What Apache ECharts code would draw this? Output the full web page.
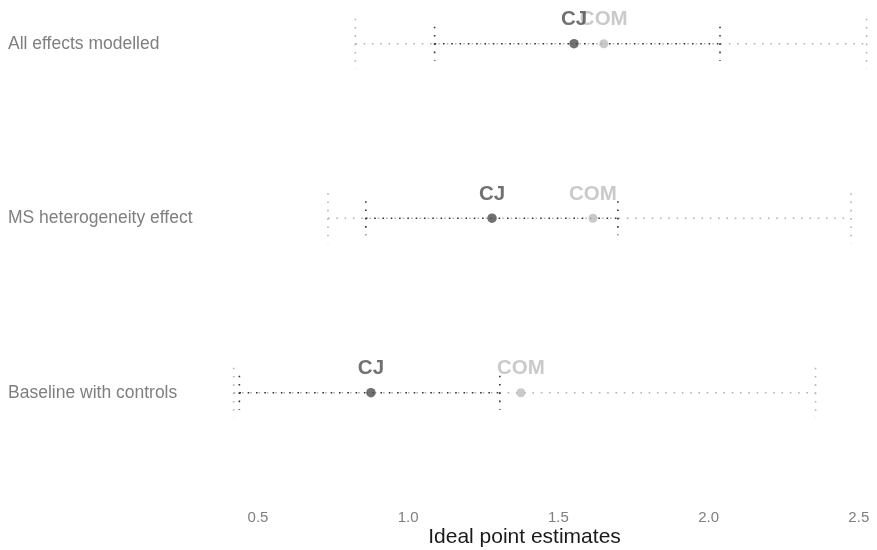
<!DOCTYPE html>
<html>
<head>
<meta charset="utf-8">
<script src="https://cdn.jsdelivr.net/npm/echarts@6/dist/echarts.min.js"></script>
<style>html,body{margin:0;padding:0;background:#fff}#c{width:877px;height:550px}</style>
</head>
<body>
<div id="c"></div>
<script>
var rows = ['Baseline with controls', 'MS heterogeneity effect', 'All effects modelled'];
var cjLo  = [0.438, 0.859, 1.088];
var cjEst = [0.876, 1.279, 1.552];
var cjHi  = [1.305, 1.698, 2.038];
var comLo  = [0.419, 0.733, 0.824];
var comEst = [1.375, 1.615, 1.651];
var comHi  = [2.356, 2.474, 2.526];
var xTicks = [0.5, 1.0, 1.5, 2.0, 2.5];

function build(lo, est, hi) {
  return rows.map(function (r, i) { return [i, lo[i], est[i], hi[i]]; });
}

function intervalRenderer(color, half) {
  return function (params, api) {
    var i = api.value(0);
    var pLo = api.coord([api.value(1), i]);
    var pHi = api.coord([api.value(3), i]);
    var st = { stroke: color, lineWidth: 1.6, lineDash: [1.6, 6.7], fill: null };
    return {
      type: 'group',
      children: [
        { type: 'line', shape: { x1: pLo[0], y1: pLo[1], x2: pHi[0], y2: pHi[1] }, style: st },
        { type: 'line', shape: { x1: pLo[0], y1: pLo[1] - half, x2: pLo[0], y2: pLo[1] + half }, style: st },
        { type: 'line', shape: { x1: pHi[0], y1: pHi[1] - half, x2: pHi[0], y2: pHi[1] + half }, style: st }
      ]
    };
  };
}

var FONT = 'Liberation Sans, Arial, sans-serif';
var chart = echarts.init(document.getElementById('c'), null, { renderer: 'canvas' });
chart.setOption({
  animation: false,
  backgroundColor: '#ffffff',
  grid: { left: 175, right: 3, top: 43.7, bottom: 157.3, containLabel: false, outerBoundsMode: 'none' },
  xAxis: {
    type: 'value',
    min: 0.2237, max: 2.5506,
    axisLine: { show: false }, axisTick: { show: false }, splitLine: { show: false },
    axisLabel: { customValues: xTicks, margin: 118, color: '#7f7f7f', fontSize: 15, fontFamily: FONT,
      formatter: function (v) { return v.toFixed(1); } },
    name: 'Ideal point estimates', nameLocation: 'middle', nameGap: 134, nameMoveOverlap: false,
    nameTextStyle: { color: '#1a1a1a', fontSize: 21, fontFamily: FONT, verticalAlign: 'top' }
  },
  yAxis: {
    type: 'category', data: rows, boundaryGap: false,
    axisLine: { show: false }, axisTick: { show: false }, splitLine: { show: false },
    axisLabel: { align: 'left', margin: 167, color: '#7f7f7f', fontSize: 17.5, fontFamily: FONT }
  },
  series: [
    { type: 'custom', name: 'COM-int', data: build(comLo, comEst, comHi), renderItem: intervalRenderer('#b3b3b3', 25), encode: { x: [1, 3], y: 0 }, z: 1 },
    { type: 'custom', name: 'CJ-int', data: build(cjLo, cjEst, cjHi), renderItem: intervalRenderer('#333333', 17), encode: { x: [1, 3], y: 0 }, z: 2 },
    { type: 'scatter', name: 'COM', data: comEst.map(function (v, i) { return [v, i]; }), symbolSize: 9,
      itemStyle: { color: '#bdbdbd' }, z: 3,
      label: { show: true, position: 'top', distance: 9, formatter: 'COM', color: '#bdbdbd', fontWeight: 'bold', fontSize: 20.5, fontFamily: FONT } },
    { type: 'scatter', name: 'CJ', data: cjEst.map(function (v, i) { return [v, i]; }), symbolSize: 9.5,
      itemStyle: { color: '#4d4d4d' }, z: 4,
      label: { show: true, position: 'top', distance: 9, formatter: 'CJ', color: '#4d4d4d', fontWeight: 'bold', fontSize: 20.5, fontFamily: FONT } }
  ]
});
</script>
</body>
</html>
